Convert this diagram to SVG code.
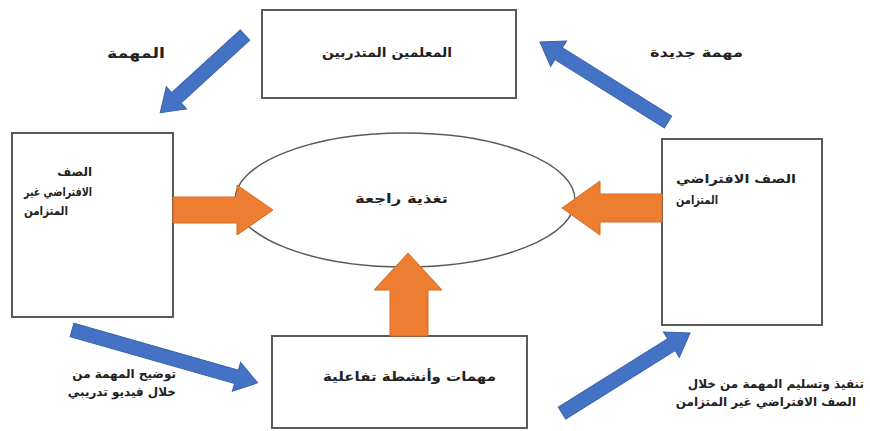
<svg xmlns="http://www.w3.org/2000/svg" width="870" height="431" viewBox="0 0 870 431">
<style>
.box{fill:#fff;stroke:#5a5a5a;stroke-width:2}
.ell{fill:#fff;stroke:#5a5a5a;stroke-width:1.5}
.t{font-family:"DejaVu Sans",sans-serif;font-weight:bold;font-size:12px;fill:#222}
.blue{fill:#4472C4;stroke:#3a62aa;stroke-width:1}
.orange{fill:#ED7D31;stroke:#d86a20;stroke-width:1}
</style>
<rect width="870" height="431" fill="#fff"/>
<g id="node-teachers">
<rect class="box" x="262" y="10" width="254" height="88"/>
<text class="t" x="322" y="57" textLength="130" lengthAdjust="spacingAndGlyphs" style="font-size:13px">المعلمين المتدربين</text>
</g>
<g id="node-feedback">
<ellipse class="ell" cx="405" cy="200" rx="170" ry="67"/>
<text class="t" x="355" y="203" textLength="93" lengthAdjust="spacingAndGlyphs" style="font-size:13px">تغذية راجعة</text>
</g>
<g id="node-left">
<rect class="box" x="12" y="133" width="161" height="184"/>
<text class="t" x="92" y="176" text-anchor="end">الصف</text>
<text class="t" x="24" y="196" textLength="68" lengthAdjust="spacingAndGlyphs">الافتراضي غير</text>
<text class="t" x="24" y="215" textLength="44" lengthAdjust="spacingAndGlyphs">المتزامن</text>
</g>
<g id="node-right">
<rect class="box" x="662" y="139" width="160" height="186"/>
<text class="t" x="676" y="183" textLength="120" lengthAdjust="spacingAndGlyphs">الصف الافتراضي</text>
<text class="t" x="676" y="204" textLength="42" lengthAdjust="spacingAndGlyphs">المتزامن</text>
</g>
<g id="node-tasks">
<rect class="box" x="272" y="336" width="255" height="92"/>
<text class="t" x="323" y="381" textLength="173" lengthAdjust="spacingAndGlyphs" style="font-size:13px">مهمات وأنشطة تفاعلية</text>
</g>
<g id="connectors">
<polygon class="orange" points="173,197 237,197 237,185 273,210 237,235 237,223 173,223"/>
<polygon class="orange" points="662,194 600,194 600,181 562,208 600,235 600,222 662,222"/>
<polygon class="orange" points="390,336 390,290 374,290 408,253 442,290 428,290 428,336"/>
<polygon class="blue" transform="translate(245,35) rotate(137.5)" points="0,-7 93,-7 93,-15 115,0 93,15 93,7 0,7"/>
<polygon class="blue" transform="translate(668,122) rotate(-148)" points="0,-7 129,-7 129,-15 151,0 129,15 129,7 0,7"/>
<polygon class="blue" transform="translate(72,330) rotate(15.9)" points="0,-7 171,-7 171,-15 193,0 171,15 171,7 0,7"/>
<polygon class="blue" transform="translate(562,413) rotate(-32)" points="0,-7 129,-7 129,-15 151,0 129,15 129,7 0,7"/>
</g>
<g id="labels">
<text class="t" x="107" y="58" textLength="58" lengthAdjust="spacingAndGlyphs" style="font-size:14px">المهمة</text>
<text class="t" x="650" y="57" textLength="93" lengthAdjust="spacingAndGlyphs" style="font-size:13px">مهمة جديدة</text>
<text class="t" x="176" y="378" text-anchor="end">توضيح المهمة من</text>
<text class="t" x="176" y="396" text-anchor="end">خلال فيديو تدريبي</text>
<text class="t" x="864" y="388" text-anchor="end">تنفيذ وتسليم المهمة من خلال</text>
<text class="t" x="856" y="406" text-anchor="end">الصف الافتراضي غير المتزامن</text>
</g>
</svg>
